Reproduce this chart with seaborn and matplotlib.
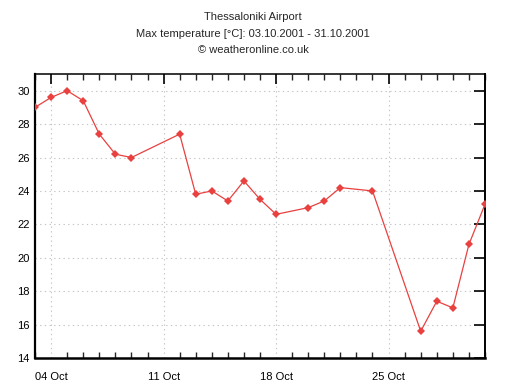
import matplotlib
matplotlib.use("Agg")
import matplotlib.pyplot as plt
import seaborn as sns
import pandas as pd
from matplotlib.ticker import MultipleLocator, FixedLocator

days = [3, 4, 5, 6, 7, 8, 9, 12, 13, 14, 15, 16, 17, 18, 20, 21, 22, 24, 27, 28, 29, 30, 31]
tmax = [29.0, 29.6, 30.0, 29.4, 27.4, 26.2, 26.0, 27.4, 23.8, 24.0, 23.4, 24.6, 23.5, 22.6,
        23.0, 23.4, 24.2, 24.0, 15.6, 17.4, 17.0, 20.8, 23.2]
xtick_pos = [4, 11, 18, 25]
xtick_labels = ["04 Oct", "11 Oct", "18 Oct", "25 Oct"]
yticks = [14, 16, 18, 20, 22, 24, 26, 28, 30]

df = pd.DataFrame({"day": days, "tmax": tmax})

sns.set_style("white")
plt.rcParams["font.family"] = ["Liberation Sans", "DejaVu Sans"]

fig = plt.figure(figsize=(5.06, 3.89), dpi=100)
ax = fig.add_axes([35/506, 31/389, 450/506, 284/389])

sns.lineplot(data=df, x="day", y="tmax", ax=ax, color="#e8413f", linewidth=0.9,
             marker="D", markersize=4.5, markeredgewidth=0, zorder=3)

ax.set_xlim(3, 31)
ax.set_ylim(14, 31)
ax.xaxis.set_major_locator(FixedLocator(xtick_pos))
ax.set_xticklabels(xtick_labels)
ax.xaxis.set_minor_locator(MultipleLocator(1))
ax.yaxis.set_major_locator(FixedLocator(yticks))
ax.set_xlabel("")
ax.set_ylabel("")

ax.grid(True, which="major", color="#c4c4c4", linestyle=(0, (1.2, 3)), linewidth=0.8)
ax.tick_params(axis="x", which="major", direction="in", length=7, width=1.2, top=True,
               labelsize=8, colors="black", pad=10)
ax.tick_params(axis="x", which="minor", direction="in", length=4, width=1, top=True, bottom=True)
ax.tick_params(axis="y", which="major", direction="in", length=8, width=1.2, right=True,
               labelsize=8, colors="black", pad=4)
for s in ax.spines.values():
    s.set_visible(True)
    s.set_color("black")
    s.set_linewidth(1.1)
ax.spines["left"].set_linewidth(1.6)
ax.spines["bottom"].set_linewidth(1.8)
ax.spines["right"].set_linewidth(1.4)

fig.text(0.5, 1 - 17/389, "Thessaloniki Airport", ha="center", va="center", fontsize=8)
fig.text(0.5, 1 - 34/389, "Max temperature [°C]: 03.10.2001 - 31.10.2001", ha="center", va="center", fontsize=8)
fig.text(0.5, 1 - 50/389, "© weatheronline.co.uk", ha="center", va="center", fontsize=8)

fig.savefig("out.png", dpi=100)
